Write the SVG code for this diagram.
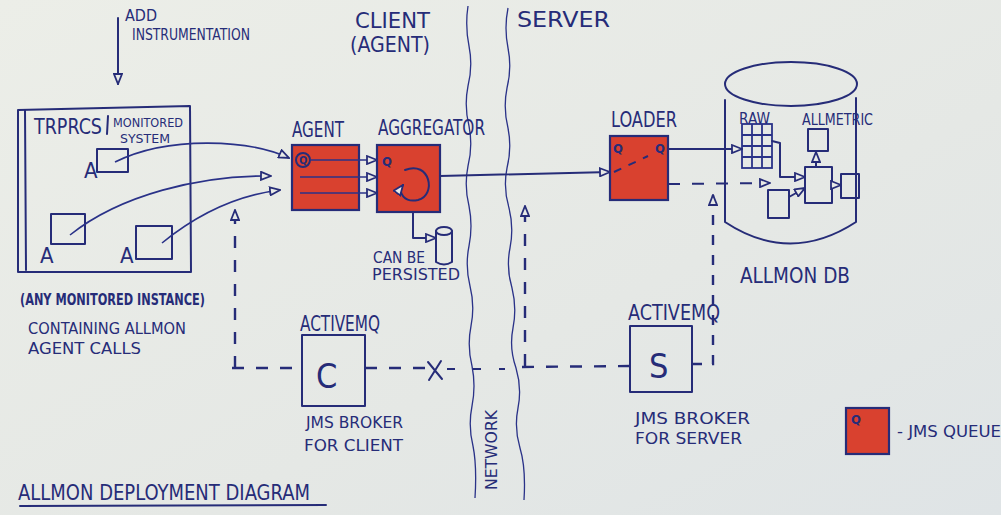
<svg xmlns="http://www.w3.org/2000/svg" width="1001" height="515" viewBox="0 0 1001 515">
<defs>
<linearGradient id="paper" x1="0" y1="0" x2="1" y2="1">
<stop offset="0" stop-color="#eceee8"/>
<stop offset="0.6" stop-color="#e5e8e5"/>
<stop offset="1" stop-color="#dfe4e6"/>
</linearGradient>
<marker id="tri" viewBox="0 0 12 10" refX="11" refY="5" markerWidth="12" markerHeight="10" markerUnits="userSpaceOnUse" orient="auto">
<path d="M1,1 L11,5 L1,9 z" fill="#e8eae6" stroke="#262c78" stroke-width="1.8"/>
</marker>
</defs>
<style>
.ink{fill:none;stroke:#262c78;stroke-width:2;stroke-linecap:round;stroke-linejoin:round}
.thin{fill:none;stroke:#2a3288;stroke-width:1.3}
.dash{fill:none;stroke:#262c78;stroke-width:2.4;stroke-dasharray:12 12}
.q{fill:#d9412f;stroke:#262c78;stroke-width:2.2}
.t{font-family:"DejaVu Sans Condensed","Liberation Sans",sans-serif;fill:#262c78}
.l{font-size:22px}
.s{font-size:16px}
.xs{font-size:13px}
</style>
<rect width="1001" height="515" fill="url(#paper)"/>

<g id="network">
<path class="thin" d="M468,6 q-3,20 1,40 q4,20 -1,40 q-4,20 1,40 q4,20 -1,40 q-4,20 1,40 q4,20 0,40 q-4,20 1,40 q5,20 1,40 q-4,20 1,40 q4,20 0,40 q-4,20 1,40 q4,20 2,52"/>
<path class="thin" d="M508,8 q-4,20 0,40 q4,20 -1,40 q-4,20 1,40 q4,20 -1,40 q-4,20 2,40 q5,20 1,40 q-4,20 2,40 q5,20 1,40 q-4,20 3,40 q6,20 2,40 q-4,20 2,40 q6,20 4,52"/>
<text class="t s" transform="translate(497,490) rotate(-90)" textLength="80" lengthAdjust="spacingAndGlyphs">NETWORK</text>
</g>

<g id="titles">
<text class="t l" x="355" y="28" textLength="75" lengthAdjust="spacingAndGlyphs">CLIENT</text>
<text class="t l" x="350" y="52" textLength="80" lengthAdjust="spacingAndGlyphs">(AGENT)</text>
<text class="t l" x="517" y="27" textLength="93" lengthAdjust="spacingAndGlyphs">SERVER</text>
</g>

<g id="note-add">
<text class="t s" x="125" y="21" textLength="32" lengthAdjust="spacingAndGlyphs">ADD</text>
<text class="t s" x="132" y="40" textLength="118" lengthAdjust="spacingAndGlyphs">INSTRUMENTATION</text>
</g>

<g id="monitored-system">
<path class="ink" d="M18,110 L190,106 L191,272 L18,272 Z"/>
<path class="ink" d="M25,110 L26,270"/>
<text class="t l" x="34" y="134" textLength="68" lengthAdjust="spacingAndGlyphs">TRPRCS</text>
<path class="ink" d="M108,116 L107,134"/>
<text class="t xs" x="113" y="127" textLength="70" lengthAdjust="spacingAndGlyphs">MONITORED</text>
<text class="t xs" x="120" y="143" textLength="50" lengthAdjust="spacingAndGlyphs">SYSTEM</text>
<rect class="ink" x="97" y="149" width="31" height="23"/>
<text class="t l" x="84" y="178">A</text>
<rect class="ink" x="51" y="214" width="34" height="30"/>
<text class="t l" x="40" y="263">A</text>
<rect class="ink" x="136" y="226" width="36" height="33"/>
<text class="t l" x="120" y="263">A</text>
<text class="t s" x="20" y="305" font-weight="bold" textLength="185" lengthAdjust="spacingAndGlyphs">(ANY MONITORED INSTANCE)</text>
<text class="t s" x="28" y="334" textLength="158" lengthAdjust="spacingAndGlyphs">CONTAINING ALLMON</text>
<text class="t s" x="28" y="354" textLength="113" lengthAdjust="spacingAndGlyphs">AGENT CALLS</text>
</g>

<g id="agent">
<text class="t l" x="292" y="137" textLength="52" lengthAdjust="spacingAndGlyphs">AGENT</text>
<rect class="q" x="292" y="145" width="67" height="65"/>
<circle cx="303" cy="160" r="7" fill="none" stroke="#262c78" stroke-width="2"/>
<text class="t" x="299" y="164" font-size="11" font-weight="bold">Q</text>
</g>

<g id="aggregator">
<text class="t l" x="378" y="135" textLength="107" lengthAdjust="spacingAndGlyphs">AGGREGATOR</text>
<rect class="q" x="377" y="145" width="63" height="67"/>
<text class="t" x="382" y="166" font-size="13" font-weight="bold">Q</text>
<path class="ink" d="M405,170 C430,160 437,195 418,200 C405,203 397,193 403,185" marker-end="url(#tri)"/>
</g>

<g id="persist">
<path class="ink" d="M436,231 L436,262 Q444,267 452,262 L452,231"/>
<ellipse class="ink" cx="444" cy="231" rx="8" ry="4"/>
<text class="t s" x="373" y="263" textLength="52" lengthAdjust="spacingAndGlyphs">CAN BE</text>
<text class="t s" x="372" y="280" textLength="88" lengthAdjust="spacingAndGlyphs">PERSISTED</text>
</g>

<g id="loader">
<text class="t l" x="611" y="127" textLength="66" lengthAdjust="spacingAndGlyphs">LOADER</text>
<rect class="q" x="610" y="136" width="58" height="64"/>
<text class="t" x="613" y="153" font-size="13" font-weight="bold">Q</text>
<text class="t" x="655" y="153" font-size="13" font-weight="bold">Q</text>
<path class="dash" style="stroke-width:2;stroke-dasharray:8 8" d="M614,172 L648,156"/>
</g>

<g id="allmon-db">
<path class="ink" d="M725,100 L725,222 Q790,265 856,222 L856,98"/>
<ellipse class="ink" cx="791" cy="84" rx="66" ry="22"/>
<text class="t s" x="739" y="124" textLength="31" lengthAdjust="spacingAndGlyphs">RAW</text>
<g class="thin" style="stroke-width:1.8">
<rect x="742" y="124" width="30" height="44"/>
<path d="M752,124 V168 M762,124 V168 M742,135 H772 M742,146 H772 M742,157 H772"/>
</g>
<text class="t s" x="802" y="125" textLength="71" lengthAdjust="spacingAndGlyphs">ALLMETRIC</text>
<rect class="ink" x="808" y="129" width="20" height="22"/>
<rect class="ink" x="805" y="167" width="27" height="36"/>
<rect class="ink" x="841" y="174" width="18" height="24"/>
<rect class="ink" x="768" y="190" width="21" height="28"/>
<path class="ink" d="M816,167 L816,152" marker-end="url(#tri)"/>
<path class="ink" d="M832,185 L841,185" marker-end="url(#tri)"/>
<path class="ink" d="M772,141 L780,143 L780,177 L805,177" marker-end="url(#tri)"/>
<path class="ink" d="M789,197 L805,188" marker-end="url(#tri)"/>
<text class="t l" x="740" y="283" textLength="110" lengthAdjust="spacingAndGlyphs">ALLMON DB</text>
</g>

<g id="activemq-client">
<text class="t l" x="300" y="331" textLength="80" lengthAdjust="spacingAndGlyphs">ACTIVEMQ</text>
<rect class="ink" x="302" y="335" width="63" height="71"/>
<text class="t" x="316" y="388" font-size="34">C</text>
<text class="t s" x="306" y="428" textLength="97" lengthAdjust="spacingAndGlyphs">JMS BROKER</text>
<text class="t s" x="304" y="451" textLength="99" lengthAdjust="spacingAndGlyphs">FOR CLIENT</text>
</g>

<g id="activemq-server">
<text class="t l" x="628" y="320" textLength="92" lengthAdjust="spacingAndGlyphs">ACTIVEMQ</text>
<rect class="ink" x="630" y="326" width="62" height="66"/>
<text class="t" x="649" y="378" font-size="34">S</text>
<text class="t s" x="635" y="424" textLength="115" lengthAdjust="spacingAndGlyphs">JMS BROKER</text>
<text class="t s" x="635" y="444" textLength="107" lengthAdjust="spacingAndGlyphs">FOR SERVER</text>
</g>

<g id="legend">
<rect class="q" x="846" y="408" width="43" height="46"/>
<text class="t" x="851" y="424" font-size="13" font-weight="bold">Q</text>
<text class="t s" x="897" y="437" textLength="104" lengthAdjust="spacingAndGlyphs">- JMS QUEUE</text>
</g>

<g id="caption">
<text class="t l" x="18" y="500" textLength="292" lengthAdjust="spacingAndGlyphs">ALLMON DEPLOYMENT DIAGRAM</text>
<path class="ink" d="M20,506 L326,505"/>
</g>

<g id="connectors">
<path class="ink" d="M118,18 L118,84" marker-end="url(#tri)"/>
<path class="thin" style="stroke-width:1.6" d="M115,162 C170,135 250,140 289,158" marker-end="url(#tri)"/>
<path class="thin" style="stroke-width:1.6" d="M70,235 C120,195 200,175 271,176" marker-end="url(#tri)"/>
<path class="thin" style="stroke-width:1.6" d="M162,243 C200,212 240,195 280,190" marker-end="url(#tri)"/>
<path class="thin" style="stroke-width:1.6" d="M310,160 L377,160" marker-end="url(#tri)"/>
<path class="thin" style="stroke-width:1.6" d="M300,177 L377,177" marker-end="url(#tri)"/>
<path class="thin" style="stroke-width:1.6" d="M300,193 L377,193" marker-end="url(#tri)"/>
<path class="ink" d="M440,176 L610,172" marker-end="url(#tri)"/>
<path class="ink" d="M413,212 L413,238 L436,238" marker-end="url(#tri)"/>
<path class="ink" d="M668,149 L742,149" marker-end="url(#tri)"/>
<path class="dash" style="stroke-width:2" d="M668,184 L770,183" marker-end="url(#tri)"/>
<path class="dash" d="M232,368 L302,368"/>
<path class="dash" d="M235,368 L235,210" marker-end="url(#tri)"/>
<path class="dash" d="M365,368 L425,368"/>
<path class="ink" d="M428,362 L442,379 M441,361 L429,380"/>
<path class="dash" style="stroke-width:1.8;stroke-dasharray:8 18" d="M447,369 L505,369"/>
<path class="dash" d="M522,367 L630,366"/>
<path class="dash" d="M525,366 L525,206" marker-end="url(#tri)"/>
<path class="dash" style="stroke-dasharray:10 10" d="M692,364 L713,364 L713,195" marker-end="url(#tri)"/>
</g>
</svg>
